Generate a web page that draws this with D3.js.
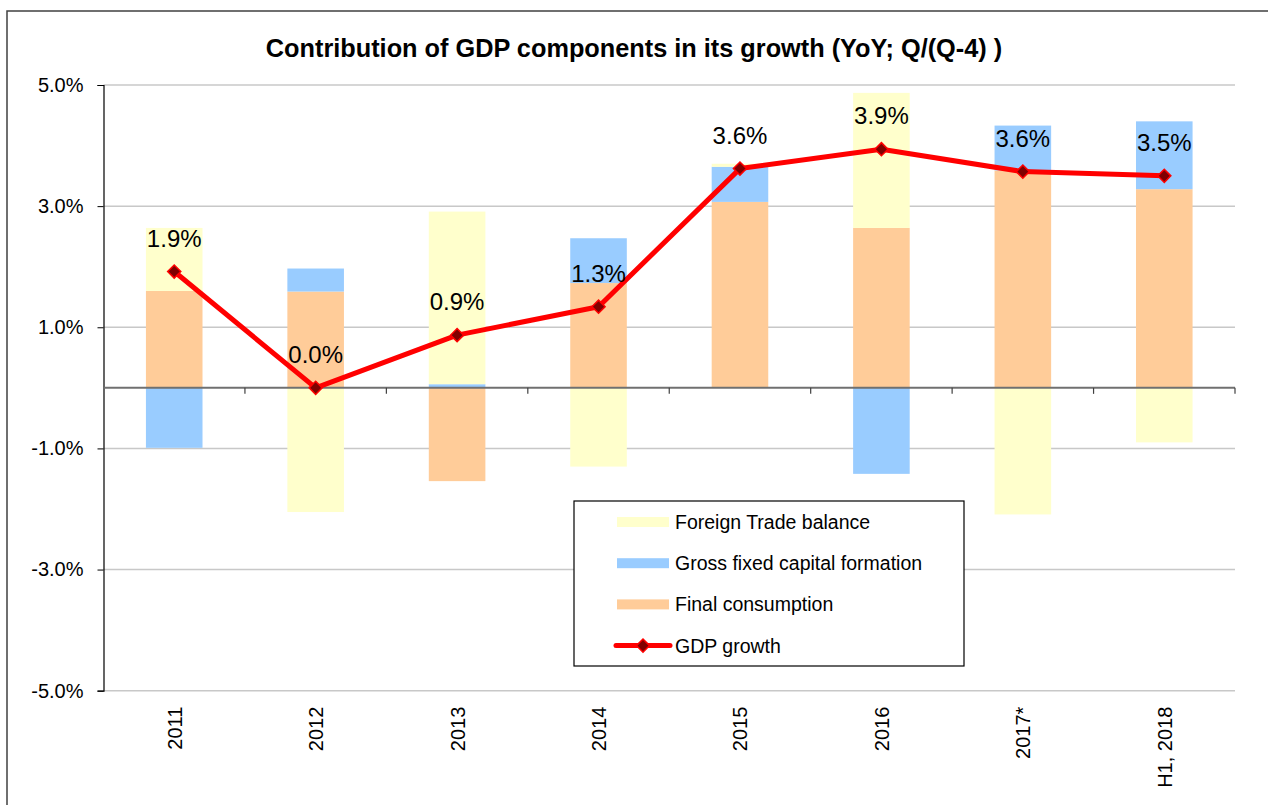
<!DOCTYPE html>
<html>
<head>
<meta charset="utf-8">
<script src="https://cdn.jsdelivr.net/npm/d3@7/dist/d3.min.js"></script>
<style>
  html, body { margin: 0; padding: 0; background: #fff; }
  svg { display: block; font-family: "Liberation Sans", Arial, sans-serif; }
</style>
</head>
<body>
<div id="viz"></div>
<script>
'use strict';

// data (percent points)
const categories = ['2011', '2012', '2013', '2014', '2015', '2016', '2017*', 'H1, 2018'];
const finalConsumption = [1.60, 1.59, -1.54, 1.73, 3.07, 2.64, 3.59, 3.28];
const grossFixedCapital = [-0.99, 0.38, 0.06, 0.74, 0.58, -1.42, 0.74, 1.12];
const foreignTrade = [1.04, -2.05, 2.85, -1.30, 0.05, 2.23, -2.09, -0.90];
const gdpGrowth = [1.92, 0.00, 0.87, 1.34, 3.62, 3.94, 3.57, 3.50];
const yTicks = [5, 3, 1, -1, -3, -5];

const seriesKeys = ['fc', 'gfcf', 'ft'];
const colors = { fc: '#FFCC99', gfcf: '#99CCFF', ft: '#FFFFCC' };
const legendItems = [
    { label: 'Foreign Trade balance', key: 'ft' },
    { label: 'Gross fixed capital formation', key: 'gfcf' },
    { label: 'Final consumption', key: 'fc' },
    { label: 'GDP growth', key: 'gdp' }
];

const W = 1268, H = 805;
const margin = { top: 85, right: 33, bottom: 114.3, left: 103.5 };
const width = W - margin.left - margin.right;
const height = H - margin.top - margin.bottom;

const rows = categories.map((c, i) => ({
    cat: c, fc: finalConsumption[i], gfcf: grossFixedCapital[i], ft: foreignTrade[i], gdp: gdpGrowth[i]
}));

const svg = d3.select('#viz').append('svg')
    .attr('width', W).attr('height', H);

// outer chart frame
svg.append('rect')
    .attr('x', 7).attr('y', 11)
    .attr('width', 1300).attr('height', 900)
    .attr('fill', '#fff').attr('stroke', '#404040').attr('stroke-width', 1.5);

// title
svg.append('text')
    .attr('x', 634).attr('y', 56.5)
    .attr('text-anchor', 'middle')
    .style('font-size', '25.3px').style('font-weight', 'bold')
    .text('Contribution of GDP components in its growth (YoY; Q/(Q-4) )');

const g = svg.append('g').attr('transform', `translate(${margin.left},${margin.top})`);

const xScale = d3.scaleBand().domain(categories).range([0, width]).paddingInner(0.6).paddingOuter(0.3);
const xBand = d3.scaleBand().domain(categories).range([0, width]);
const yScale = d3.scaleLinear().domain([-5, 5]).range([height, 0]);

// gridlines
g.append('g').attr('class', 'grid')
    .selectAll('line').data(yTicks).join('line')
    .attr('x1', 0).attr('x2', width)
    .attr('y1', d => yScale(d)).attr('y2', d => yScale(d))
    .attr('stroke', '#C8C8C8').attr('stroke-width', 1.5);

// y axis
const yAxis = g.append('g')
    .call(d3.axisLeft(yScale).tickValues(yTicks).tickSize(6).tickPadding(14)
        .tickFormat(d => d.toFixed(1) + '%'));
yAxis.select('.domain').attr('stroke', '#000').attr('stroke-width', 1.2);
yAxis.selectAll('.tick line').attr('stroke', '#000');
yAxis.selectAll('.tick text')
    .style('font-size', '20px').attr('fill', '#000')
    .style('font-family', '"Liberation Sans", Arial, sans-serif');

// stacked bars
const stack = d3.stack().keys(seriesKeys).offset(d3.stackOffsetDiverging);
const stacked = stack(rows);

g.append('g').selectAll('g').data(stacked).join('g')
    .attr('fill', d => colors[d.key])
    .selectAll('rect').data(d => d).join('rect')
    .attr('class', 'bar')
    .attr('x', d => xScale(d.data.cat))
    .attr('width', xScale.bandwidth())
    .attr('y', d => yScale(d[1]))
    .attr('height', d => yScale(d[0]) - yScale(d[1]));

// zero axis with category ticks
const zeroAxis = g.append('g').attr('transform', `translate(0,${yScale(0)})`);
zeroAxis.append('line')
    .attr('x1', 0).attr('x2', width)
    .attr('stroke', '#707070').attr('stroke-width', 2);
zeroAxis.selectAll('line.tk').data(categories).join('line')
    .attr('class', 'tk')
    .attr('x1', d => xBand(d) + xBand.bandwidth()).attr('x2', d => xBand(d) + xBand.bandwidth())
    .attr('y1', 0).attr('y2', 6)
    .attr('stroke', '#404040').attr('stroke-width', 1.2);

// category labels (rotated)
g.append('g').selectAll('text').data(categories).join('text')
    .attr('transform', d => `translate(${xBand(d) + xBand.bandwidth() / 2 + 7.5},${height + 16}) rotate(-90)`)
    .attr('text-anchor', 'end')
    .style('font-size', '20px')
    .text(d => d);

// GDP line
const cx = d => xBand(d.cat) + xBand.bandwidth() / 2;
const line = d3.line().x(cx).y(d => yScale(d.gdp));
g.append('path').datum(rows)
    .attr('d', line)
    .attr('fill', 'none').attr('stroke', '#FF0000').attr('stroke-width', 5)
    .attr('stroke-linejoin', 'round');

const diamond = d3.symbol().type(d3.symbolDiamond2).size(110);
g.append('g').selectAll('path').data(rows).join('path')
    .attr('transform', d => `translate(${cx(d)},${yScale(d.gdp)})`)
    .attr('d', diamond)
    .attr('fill', '#800000').attr('stroke', '#FF0000').attr('stroke-width', 1.5);

// data labels
g.append('g').selectAll('text').data(rows).join('text')
    .attr('x', cx)
    .attr('y', d => yScale(d.gdp) - 25)
    .attr('text-anchor', 'middle')
    .style('font-size', '24px')
    .text(d => d.gdp.toFixed(1) + '%');

// legend
const legend = svg.append('g').attr('transform', 'translate(574,501)');
legend.append('rect')
    .attr('width', 390).attr('height', 165)
    .attr('fill', '#fff').attr('stroke', '#000').attr('stroke-width', 1.2);
const item = legend.selectAll('g').data(legendItems).join('g')
    .attr('transform', (d, i) => `translate(0,${21 + i * 41.2})`);
item.filter(d => d.key !== 'gdp').append('rect')
    .attr('x', 43).attr('y', -5).attr('width', 52).attr('height', 10)
    .attr('fill', d => colors[d.key]);
const gdpItem = item.filter(d => d.key === 'gdp');
gdpItem.append('line')
    .attr('x1', 42).attr('x2', 96)
    .attr('stroke', '#FF0000').attr('stroke-width', 5).attr('stroke-linecap', 'round');
gdpItem.append('path')
    .attr('transform', 'translate(69,0)')
    .attr('d', diamond)
    .attr('fill', '#800000').attr('stroke', '#FF0000').attr('stroke-width', 1.5);
item.append('text')
    .attr('x', 101).attr('y', 7)
    .style('font-size', '19.5px')
    .text(d => d.label);
</script>
</body>
</html>
